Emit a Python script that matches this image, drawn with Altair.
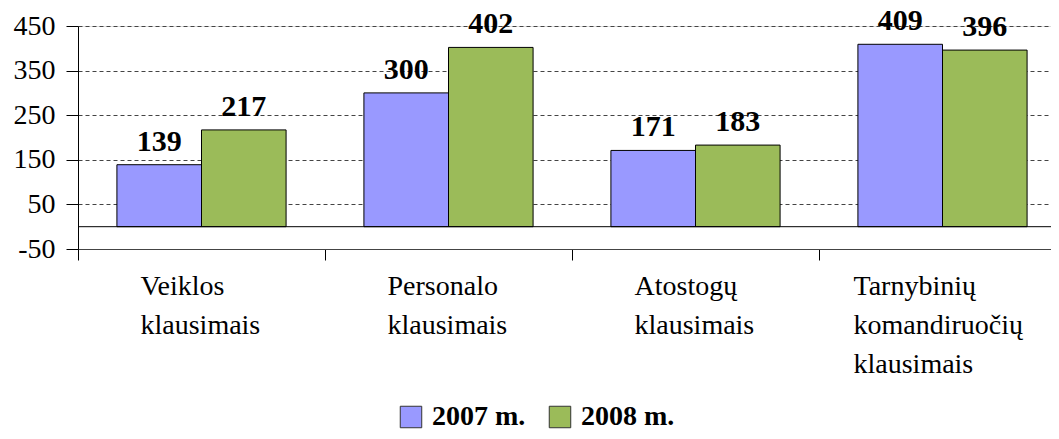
import altair as alt
import pandas as pd

categories = ["Veiklos klausimais", "Personalo klausimais", "Atostogų klausimais",
              "Tarnybinių komandiruočių klausimais"]
years = ["2007 m.", "2008 m."]
v2007 = [139, 300, 171, 409]
v2008 = [217, 402, 183, 396]
y_ticks = [-50, 50, 150, 250, 350, 450]
colors = ["#9999FF", "#9BBB59"]

rows = []
for c, a, b in zip(categories, v2007, v2008):
    rows.append({"cat": c, "year": years[0], "val": a})
    rows.append({"cat": c, "year": years[1], "val": b})
df = pd.DataFrame(rows)
cat_df = pd.DataFrame({"cat": categories})

FONT = "Liberation Serif"

x_scale = alt.Scale(paddingInner=0, paddingOuter=0, range=[0, 988])
x_enc = alt.X("cat:N", sort=categories, title=None, scale=x_scale,
              axis=alt.Axis(tickBand="extent", tickSize=11, tickColor="black",
                            domainColor="#444", labels=False))
xo_enc = alt.XOffset("year:N", sort=years,
                     scale=alt.Scale(paddingInner=0, paddingOuter=0.46))
y_enc = alt.Y("val:Q", title=None,
              scale=alt.Scale(domain=[-50, 450], nice=False, zero=False),
              axis=alt.Axis(values=y_ticks, grid=True, gridDash=[4, 3], gridColor="#444",
                            tickSize=12, tickColor="black", domainColor="black",
                            labelFont=FONT, labelFontSize=28, labelColor="black",
                            labelExpr="datum.value + ''", labelPadding=11))

bars = alt.Chart(df).mark_bar(stroke="black", strokeWidth=1).encode(
    x=x_enc, xOffset=xo_enc, y=y_enc, y2=alt.datum(0),
    color=alt.Color("year:N", sort=years,
                    scale=alt.Scale(domain=years, range=colors),
                    legend=alt.Legend(title=None, orient="none", direction="horizontal",
                                      legendX=319, legendY=377,
                                      symbolType="square", symbolSize=462,
                                      symbolStrokeColor="#333", symbolStrokeWidth=1,
                                      symbolOpacity=1,
                                      labelFont=FONT, labelFontSize=28, labelFontWeight="bold",
                                      labelColor="black", labelOffset=7, columnPadding=20)),
)

labels = alt.Chart(df).mark_text(font=FONT, fontSize=30, fontWeight="bold",
                                 baseline="alphabetic", align="center", dy=-14,
                                 color="black").encode(
    x=alt.X("cat:N", sort=categories), xOffset=xo_enc, y=alt.Y("val:Q"),
    text=alt.Text("val:Q"),
)

zero = alt.Chart(pd.DataFrame({"z": [0]})).mark_rule(color="black", strokeWidth=1).encode(
    y=alt.Y("z:Q")
)

cat_text = dict(font=FONT, fontSize=28, color="black", align="left", baseline="top",
                lineBreak=" ", lineHeight=39, dy=24)
cat_short = alt.Chart(cat_df).transform_filter(
    "length(datum.cat) < 25").mark_text(dx=-61, **cat_text).encode(
    x=alt.X("cat:N", sort=categories), y=alt.datum(-50), text="cat:N")
cat_long = alt.Chart(cat_df).transform_filter(
    "length(datum.cat) >= 25").mark_text(dx=-89, **cat_text).encode(
    x=alt.X("cat:N", sort=categories), y=alt.datum(-50), text="cat:N")

chart = alt.layer(bars, zero, labels, cat_short, cat_long).properties(
    width=973, height=223,
    autosize=alt.AutoSizeParams(type="none"),
    padding={"left": 70, "top": 18, "right": 0, "bottom": 181},
).configure_view(stroke="transparent").configure(background="white")

chart.save("out.html", embed_options={"renderer": "svg", "actions": False})
